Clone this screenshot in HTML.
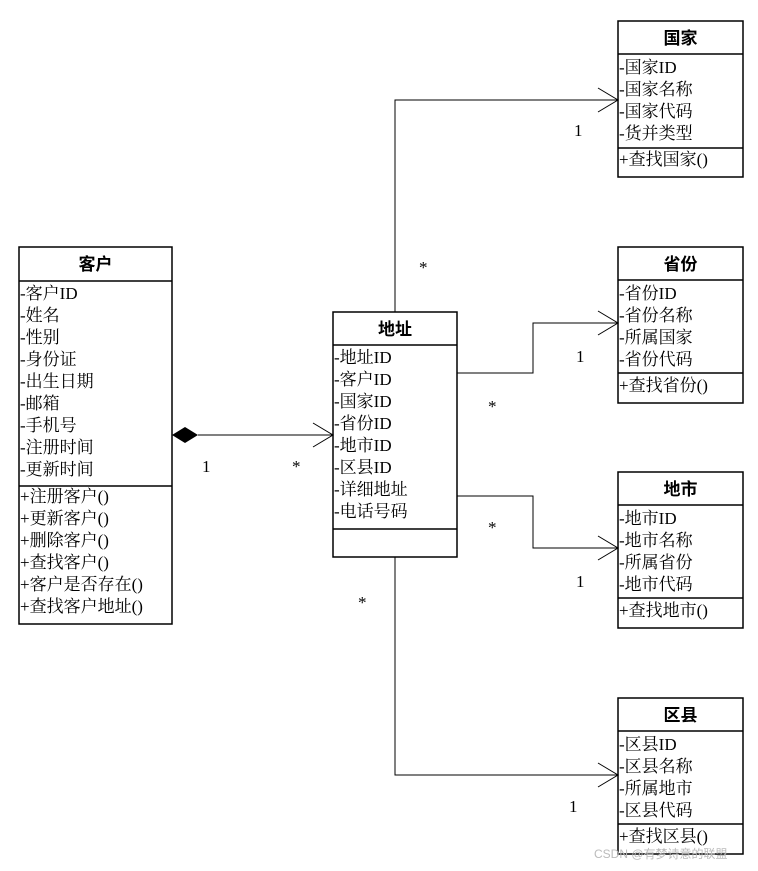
<!DOCTYPE html>
<html><head><meta charset="utf-8"><style>
html,body{margin:0;padding:0;background:#fff;}
text{font-family:"Liberation Serif","Noto Serif CJK SC",serif;font-size:17px;fill:#000;}
.t{font-weight:bold;font-family:"Liberation Sans","Noto Sans CJK SC",sans-serif;font-size:17px;}
</style></head><body>
<svg width="758" height="866" viewBox="0 0 758 866" xmlns="http://www.w3.org/2000/svg">
<g fill="none" stroke="#000" stroke-width="1.5">
<!-- 客户 -->
<rect x="19" y="247" width="153" height="377"/>
<line x1="19" y1="281" x2="172" y2="281"/>
<line x1="19" y1="486" x2="172" y2="486"/>
<!-- 地址 -->
<rect x="333" y="312" width="124" height="245"/>
<line x1="333" y1="345" x2="457" y2="345"/>
<line x1="333" y1="529" x2="457" y2="529"/>
<!-- 国家 -->
<rect x="618" y="21" width="125" height="156"/>
<line x1="618" y1="54" x2="743" y2="54"/>
<line x1="618" y1="148" x2="743" y2="148"/>
<!-- 省份 -->
<rect x="618" y="247" width="125" height="156"/>
<line x1="618" y1="280" x2="743" y2="280"/>
<line x1="618" y1="373" x2="743" y2="373"/>
<!-- 地市 -->
<rect x="618" y="472" width="125" height="156"/>
<line x1="618" y1="505" x2="743" y2="505"/>
<line x1="618" y1="598" x2="743" y2="598"/>
<!-- 区县 -->
<rect x="618" y="698" width="125" height="156"/>
<line x1="618" y1="731" x2="743" y2="731"/>
<line x1="618" y1="824" x2="743" y2="824"/>
</g>
<g fill="none" stroke="#000" stroke-width="1">
<polyline points="395,312 395,100 618,100"/>
<polyline points="598,88 618,100 598,112"/>
<polyline points="457,373 533,373 533,323 618,323"/>
<polyline points="598,311 618,323 598,335"/>
<polyline points="457,496 533,496 533,548 618,548"/>
<polyline points="598,536 618,548 598,560"/>
<polyline points="395,557 395,775 618,775"/>
<polyline points="598,763 618,775 598,787"/>
<line x1="198" y1="435" x2="333" y2="435"/>
<polyline points="313,423 333,435 313,447"/>
</g>
<polygon points="172,435 185,427 198,435 185,443" fill="#000"/>
<g>
<text x="574" y="136">1</text><text x="419" y="273">*</text>
<text x="576" y="362">1</text><text x="488" y="412">*</text>
<text x="576" y="587">1</text><text x="488" y="533">*</text>
<text x="569" y="812">1</text><text x="358" y="608">*</text>
<text x="202" y="472">1</text><text x="292" y="472">*</text>
</g>
<text class="t" x="95.5" y="270" text-anchor="middle">客户</text>
<g>
<text x="20" y="299">-客户ID</text><text x="20" y="321">-姓名</text><text x="20" y="343">-性别</text>
<text x="20" y="365">-身份证</text><text x="20" y="387">-出生日期</text><text x="20" y="409">-邮箱</text>
<text x="20" y="431">-手机号</text><text x="20" y="453">-注册时间</text><text x="20" y="475">-更新时间</text>
<text x="20" y="502">+注册客户()</text><text x="20" y="524">+更新客户()</text><text x="20" y="546">+删除客户()</text>
<text x="20" y="568">+查找客户()</text><text x="20" y="590">+客户是否存在()</text><text x="20" y="612">+查找客户地址()</text>
</g>
<text class="t" x="395" y="335" text-anchor="middle">地址</text>
<g>
<text x="334" y="363">-地址ID</text><text x="334" y="385">-客户ID</text><text x="334" y="407">-国家ID</text>
<text x="334" y="429">-省份ID</text><text x="334" y="451">-地市ID</text><text x="334" y="473">-区县ID</text>
<text x="334" y="495">-详细地址</text><text x="334" y="517">-电话号码</text>
</g>
<text class="t" x="680.5" y="44" text-anchor="middle">国家</text>
<text x="619" y="73">-国家ID</text><text x="619" y="95">-国家名称</text><text x="619" y="117">-国家代码</text><text x="619" y="139">-货并类型</text>
<text x="619" y="165">+查找国家()</text>
<text class="t" x="680.5" y="270" text-anchor="middle">省份</text>
<text x="619" y="299">-省份ID</text><text x="619" y="321">-省份名称</text><text x="619" y="343">-所属国家</text><text x="619" y="365">-省份代码</text>
<text x="619" y="391">+查找省份()</text>
<text class="t" x="680.5" y="495" text-anchor="middle">地市</text>
<text x="619" y="524">-地市ID</text><text x="619" y="546">-地市名称</text><text x="619" y="568">-所属省份</text><text x="619" y="590">-地市代码</text>
<text x="619" y="616">+查找地市()</text>
<text class="t" x="680.5" y="721" text-anchor="middle">区县</text>
<text x="619" y="750">-区县ID</text><text x="619" y="772">-区县名称</text><text x="619" y="794">-所属地市</text><text x="619" y="816">-区县代码</text>
<text x="619" y="842">+查找区县()</text>
<text x="594" y="858" style="font-size:12px;fill:#bbb;font-family:'Liberation Sans','Noto Sans CJK SC',sans-serif">CSDN @有梦诗意的联盟</text>
</svg>
</body></html>
